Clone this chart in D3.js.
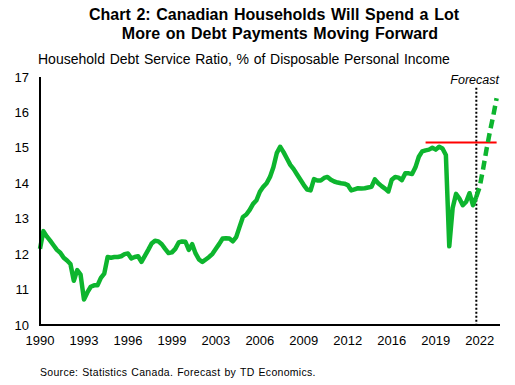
<!DOCTYPE html>
<html>
<head>
<meta charset="utf-8">
<script src="https://cdn.jsdelivr.net/npm/d3@7"></script>
<style>
  html, body { margin: 0; padding: 0; background: #fff; }
  svg { display: block; font-family: "Liberation Sans", Arial, sans-serif; }
</style>
</head>
<body>
<svg id="chart" width="515" height="385"></svg>
<script>
// ---- Data ----
const startQuarter = "1990Q1";
// Quarterly household debt service ratio, 1990Q1 .. 2022Q2 (actual)
const actualValues = [
  12.15, 12.65, 12.50, 12.38, 12.25, 12.12, 12.04, 11.90, 11.82, 11.72,
  11.25, 11.55, 11.42, 10.72, 10.92, 11.08, 11.12, 11.12, 11.33, 11.45,
  11.92, 11.90, 11.92, 11.92, 11.94, 12.00, 12.02, 11.88, 11.92, 11.94,
  11.78, 11.95, 12.12, 12.30, 12.38, 12.36, 12.28, 12.15, 12.03, 12.05,
  12.15, 12.33, 12.36, 12.35, 12.12, 12.28, 12.02, 11.85, 11.78, 11.85,
  11.92, 12.01, 12.15, 12.29, 12.44, 12.45, 12.44, 12.36, 12.48, 12.77,
  13.05, 13.12, 13.25, 13.42, 13.52, 13.76, 13.90, 14.00, 14.18, 14.45,
  14.85, 15.03, 14.88, 14.70, 14.52, 14.40, 14.25, 14.10, 13.95, 13.82,
  13.80, 14.12, 14.08, 14.08, 14.15, 14.18, 14.10, 14.05, 14.02, 14.00,
  13.99, 13.95, 13.80, 13.83, 13.86, 13.85, 13.86, 13.88, 13.90, 14.11,
  14.00, 13.92, 13.85, 13.77, 14.10, 14.18, 14.16, 14.09, 14.28, 14.28,
  14.26, 14.45, 14.75, 14.90, 14.93, 14.95, 15.00, 14.95, 15.03, 14.98,
  14.80, 12.22, 13.30, 13.70, 13.57, 13.38, 13.48, 13.72, 13.38, 13.62
];
// Forecast, 2022Q2 .. 2023Q4
const forecastStart = "2022Q2";
const forecastValues = [13.62, 13.90, 14.40, 14.95, 15.45, 15.90, 16.40];

const tickQuarters = ["1990Q1","1993Q2","1996Q3","1999Q4","2003Q1","2006Q2","2009Q3","2012Q4","2016Q1","2019Q2","2022Q3"];
const tickLabels   = ["1990","1993","1996","1999","2003","2006","2009","2012","2016","2019","2022"];
const yTicks = [10, 11, 12, 13, 14, 15, 16, 17];

const refLine = { from: "2018Q3", to: "2023Q4", value: 15.15 };
const forecastMarker = { at: "2022Q2", top: 16.7, label: "Forecast" };

const titleLines = ["Chart 2: Canadian Households Will Spend a Lot", "More on Debt Payments Moving Forward"];
const subtitle = "Household Debt Service Ratio, % of Disposable Personal Income";
const source = "Source: Statistics Canada. Forecast by TD Economics.";

// ---- Helpers ----
function qIndex(q) {
  const y = +q.slice(0, 4), n = +q.slice(5);
  const y0 = +startQuarter.slice(0, 4), n0 = +startQuarter.slice(5);
  return (y - y0) * 4 + (n - n0);
}

// ---- Layout ----
const svg = d3.select("#chart");
const green = "#0db52e";
const x = d3.scaleLinear().domain([0, 136]).range([40, 500]);
const y = d3.scaleLinear().domain([10, 17]).range([325, 77]);

// Title
svg.append("text")
  .attr("x", 274).attr("y", 19.5)
  .attr("text-anchor", "middle")
  .attr("font-size", 16).attr("font-weight", "bold")
  .attr("word-spacing", 1.2)
  .text(titleLines[0]);
svg.append("text")
  .attr("x", 280).attr("y", 38.5)
  .attr("text-anchor", "middle")
  .attr("font-size", 16).attr("font-weight", "bold")
  .attr("word-spacing", 1.2)
  .text(titleLines[1]);

svg.append("text")
  .attr("x", 38).attr("y", 63.5)
  .attr("font-size", 14)
  .attr("word-spacing", 0.8)
  .text(subtitle);

// Y labels
svg.append("g").selectAll("text").data(yTicks).join("text")
  .attr("x", 29).attr("y", d => y(d))
  .attr("dy", "0.35em")
  .attr("text-anchor", "end")
  .attr("font-size", 13)
  .text(d => d);

// X labels
svg.append("g").selectAll("text").data(tickQuarters).join("text")
  .attr("x", d => x(qIndex(d)))
  .attr("y", 345)
  .attr("text-anchor", "middle")
  .attr("font-size", 13)
  .text((d, i) => tickLabels[i]);

// Forecast marker (dotted vertical)
const fi = qIndex(forecastMarker.at);
svg.append("line")
  .attr("x1", x(fi)).attr("x2", x(fi))
  .attr("y1", y(forecastMarker.top)).attr("y2", y(10))
  .attr("stroke", "#000").attr("stroke-width", 2)
  .attr("stroke-dasharray", "2,2");
svg.append("text")
  .attr("x", 499).attr("y", 84)
  .attr("text-anchor", "end")
  .attr("font-size", 12.5).attr("font-style", "italic")
  .text(forecastMarker.label);

// Red reference line
svg.append("line")
  .attr("x1", x(qIndex(refLine.from))).attr("x2", x(qIndex(refLine.to)))
  .attr("y1", y(refLine.value)).attr("y2", y(refLine.value))
  .attr("stroke", "#ff0000").attr("stroke-width", 2);

// Lines
const line = d3.line().x(d => x(d[0])).y(d => y(d[1]));
const actualPts = actualValues.map((v, i) => [i, v]);
const f0 = qIndex(forecastStart);
const forecastPts = forecastValues.map((v, i) => [f0 + i, v]);

svg.append("path")
  .attr("d", line(actualPts))
  .attr("fill", "none").attr("stroke", green)
  .attr("stroke-width", 4.5).attr("stroke-linejoin", "round");

svg.append("path")
  .attr("d", line(forecastPts))
  .attr("fill", "none").attr("stroke", green)
  .attr("stroke-width", 4.5)
  .attr("stroke-dasharray", "9,5");

// Axes lines
svg.append("line")
  .attr("x1", 40).attr("x2", 40).attr("y1", y(17)).attr("y2", y(10) + 1)
  .attr("stroke", "#000").attr("stroke-width", 2);
svg.append("line")
  .attr("x1", 39).attr("x2", 500).attr("y1", y(10)).attr("y2", y(10))
  .attr("stroke", "#000").attr("stroke-width", 2);

// Source
svg.append("text")
  .attr("x", 40).attr("y", 376)
  .attr("font-size", 10.5)
  .attr("letter-spacing", 0.3)
  .attr("word-spacing", 0.8)
  .text(source);
</script>
</body>
</html>
